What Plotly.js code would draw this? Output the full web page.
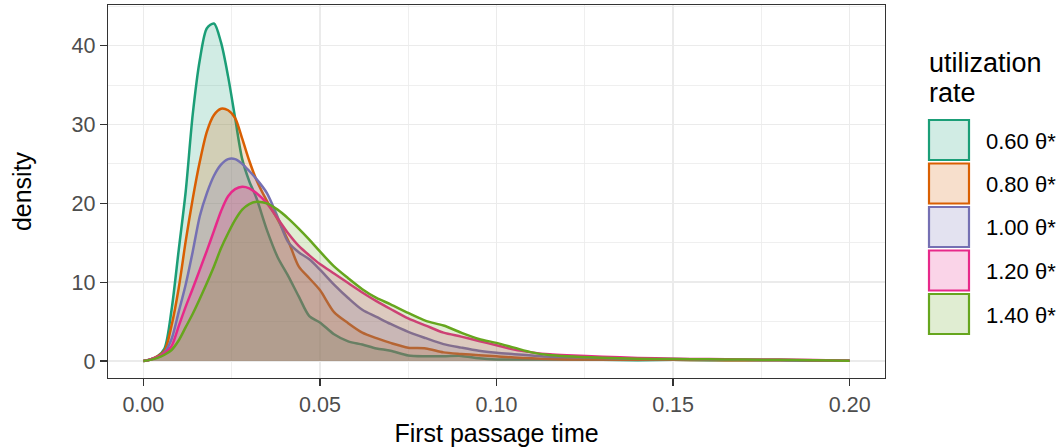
<!DOCTYPE html>
<html>
<head>
<meta charset="utf-8">
<script src="https://cdn.plot.ly/plotly-3.0.1.min.js"></script>
<style>html,body{margin:0;padding:0;background:#fff;}#chart{width:1063px;height:447px;}</style>
</head>
<body>
<div id="chart"></div>
<script>
// ---- data ----
const firstPassageTime = [0, 0.002, 0.004, 0.006, 0.008, 0.010, 0.012, 0.014, 0.016, 0.018, 0.020, 0.022, 0.024, 0.026, 0.028, 0.030, 0.032, 0.035, 0.038, 0.041, 0.044, 0.047, 0.050, 0.054, 0.058, 0.062, 0.066, 0.070, 0.075, 0.080, 0.085, 0.090, 0.095, 0.100, 0.105, 0.110, 0.115, 0.120, 0.13, 0.14, 0.15, 0.16, 0.17, 0.18, 0.19, 0.20];

const density060 = [0, 0.2, 0.6, 1.6, 6.5, 14.0, 21.5, 31.3, 38.2, 42.2, 42.8, 40.4, 36.1, 30.8, 25.6, 22.8, 20.7, 16.6, 13.2, 10.8, 8.2, 5.7, 4.9, 3.4, 2.5, 2.1, 1.6, 1.3, 0.7, 0.6, 0.6, 0.65, 0.35, 0.2, 0.2, 0.2, 0.2, 0.2, 0.15, 0.1, 0.15, 0.1, 0.1, 0.1, 0.05, 0.03];
const density080 = [0, 0.2, 0.6, 1.3, 4.5, 9.2, 15.2, 20.6, 25.3, 29.1, 31.2, 32.0, 31.8, 30.8, 28.2, 25.4, 23.0, 20.3, 18.0, 15.3, 12.0, 10.5, 9.0, 6.2, 4.8, 3.6, 2.9, 2.3, 1.7, 1.6, 1.1, 0.9, 0.75, 0.6, 0.45, 0.35, 0.25, 0.2, 0.2, 0.15, 0.15, 0.12, 0.1, 0.1, 0.08, 0.05];
const density100 = [0, 0.2, 0.5, 1.1, 2.8, 6.2, 9.7, 13.9, 18.4, 21.3, 23.5, 24.9, 25.6, 25.6, 25.0, 24.1, 23.1, 21.3, 18.3, 15.1, 13.8, 12.9, 11.6, 9.7, 8.0, 6.5, 5.6, 4.7, 3.7, 2.9, 2.15, 1.7, 1.3, 1.05, 0.87, 0.7, 0.55, 0.5, 0.38, 0.3, 0.25, 0.2, 0.15, 0.12, 0.1, 0.05];
const density120 = [0, 0.2, 0.5, 1.0, 1.9, 4.4, 6.9, 9.2, 11.6, 14.0, 16.5, 19.0, 20.9, 21.8, 22.1, 21.9, 21.3, 20.0, 18.1, 16.2, 14.6, 13.4, 12.3, 11.1, 9.9, 8.7, 7.6, 6.6, 5.4, 4.5, 3.6, 3.1, 2.55, 2.0, 1.45, 1.1, 0.85, 0.72, 0.55, 0.4, 0.3, 0.25, 0.2, 0.2, 0.12, 0.05];
const density140 = [0, 0.15, 0.4, 0.8, 1.4, 2.6, 4.3, 6.0, 7.9, 9.9, 12.0, 14.3, 16.2, 17.9, 19.2, 19.9, 20.2, 20.0, 19.2, 18.1, 16.8, 15.4, 13.9, 12.0, 10.5, 9.1, 8.0, 7.2, 6.1, 5.1, 4.5, 3.6, 2.8, 2.3, 1.7, 1.1, 0.76, 0.6, 0.42, 0.3, 0.25, 0.22, 0.2, 0.15, 0.1, 0.05];

const rateLabels = ['0.60 θ*', '0.80 θ*', '1.00 θ*', '1.20 θ*', '1.40 θ*'];
const xTickVals = [0, 0.05, 0.10, 0.15, 0.20];
const xTickText = ['0.00', '0.05', '0.10', '0.15', '0.20'];
const yTickVals = [0, 10, 20, 30, 40];

// ---- styling ----
const seriesValues = [density060, density080, density100, density120, density140];
const lineColors = ['#1B9E77', '#D95F02', '#7570B3', '#E7298A', '#66A61E'];
function rgba(hex, a) {
  const r = parseInt(hex.slice(1, 3), 16), g = parseInt(hex.slice(3, 5), 16), b = parseInt(hex.slice(5, 7), 16);
  return 'rgba(' + r + ',' + g + ',' + b + ',' + a + ')';
}
const FONT = '"Liberation Sans", Arial, Helvetica, sans-serif';

const W = 1063, H = 447;
const M = {l: 108, r: 178, t: 5, b: 69};
const PW = W - M.l - M.r, PH = H - M.t - M.b;
const px2x = p => (p - M.l) / PW;
const px2y = p => (H - M.b - p) / PH;

const traces = seriesValues.map((vals, i) => ({
  type: 'scatter',
  mode: 'lines',
  x: firstPassageTime,
  y: vals,
  name: rateLabels[i],
  fill: 'tozeroy',
  fillcolor: rgba(lineColors[i], 0.2),
  line: {color: lineColors[i], width: 2.5, shape: 'spline', smoothing: 0.8},
  showlegend: false,
  hoverinfo: 'skip'
}));

// custom legend (ggplot style keys)
const shapes = [];
const annotations = [];
annotations.push({xref: 'paper', yref: 'paper', x: px2x(927), y: px2y(63), xanchor: 'left', yanchor: 'middle',
  text: 'utilization', showarrow: false, font: {family: FONT, size: 27, color: '#000'}});
annotations.push({xref: 'paper', yref: 'paper', x: px2x(927), y: px2y(93), xanchor: 'left', yanchor: 'middle',
  text: 'rate', showarrow: false, font: {family: FONT, size: 27, color: '#000'}});
rateLabels.forEach((lab, i) => {
  const top = 120 + i * 43.5;
  shapes.push({type: 'rect', xref: 'paper', yref: 'paper',
    x0: px2x(929), x1: px2x(969), y0: px2y(top), y1: px2y(top + 40),
    fillcolor: rgba(lineColors[i], 0.2), line: {color: lineColors[i], width: 2.2}});
  annotations.push({xref: 'paper', yref: 'paper', x: px2x(984), y: px2y(top + 21), xanchor: 'left', yanchor: 'middle',
    text: lab, showarrow: false, font: {family: FONT, size: 22, color: '#000'}});
});

const layout = {
  width: W, height: H,
  margin: M,
  paper_bgcolor: '#fff',
  plot_bgcolor: '#fff',
  font: {family: FONT, color: '#000'},
  showlegend: false,
  xaxis: {
    range: [-0.01, 0.21],
    tickvals: xTickVals, ticktext: xTickText,
    ticks: 'outside', ticklen: 7, tickwidth: 1.3, tickcolor: '#333333',
    tickfont: {family: FONT, size: 21.5, color: '#4D4D4D'},
    showgrid: true, gridcolor: '#EBEBEB', gridwidth: 1.5,
    minor: {dtick: 0.025, tick0: 0.025, showgrid: true, gridcolor: '#EBEBEB', gridwidth: 0.8, ticks: ''},
    zeroline: false,
    showline: true, mirror: true, linecolor: '#333333', linewidth: 1.2,
    title: {text: 'First passage time', font: {family: FONT, size: 25, color: '#000'}, standoff: 8}
  },
  yaxis: {
    range: [-2.15, 45.15],
    tickvals: yTickVals,
    ticks: 'outside', ticklen: 7, tickwidth: 1.3, tickcolor: '#333333',
    tickfont: {family: FONT, size: 21.5, color: '#4D4D4D'},
    showgrid: true, gridcolor: '#EBEBEB', gridwidth: 1.5,
    minor: {dtick: 10, tick0: 5, showgrid: true, gridcolor: '#EBEBEB', gridwidth: 0.8, ticks: ''},
    zeroline: false,
    showline: true, mirror: true, linecolor: '#333333', linewidth: 1.2,
    title: {text: 'density', font: {family: FONT, size: 25, color: '#000'}, standoff: 32}
  },
  shapes: shapes,
  annotations: annotations
};

Plotly.newPlot('chart', traces, layout, {staticPlot: true, displayModeBar: false});
</script>
</body>
</html>
